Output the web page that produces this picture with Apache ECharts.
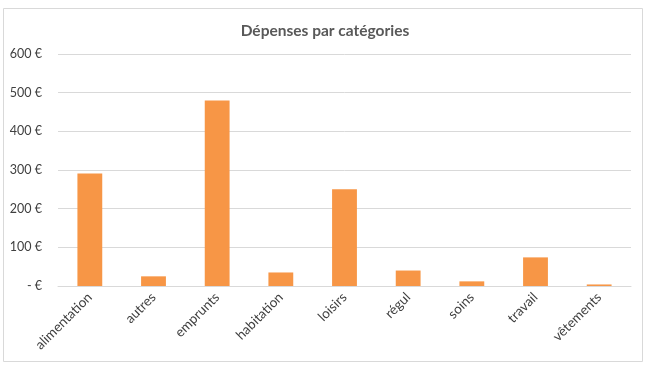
<!DOCTYPE html>
<html><head><meta charset="utf-8">
<script src="https://cdn.jsdelivr.net/npm/echarts@6/dist/echarts.min.js"></script>
<style>html,body{margin:0;padding:0;background:#fff}#c{width:650px;height:369px}</style>
</head><body><div id="c"></div>
<script>
var categories = ['alimentation','autres','emprunts','habitation','loisirs','régul','soins','travail','vêtements'];
var values = [291, 25, 480, 35, 250, 40, 12, 74, 4];
var yTicks = [0, 100, 200, 300, 400, 500, 600];
var title = 'Dépenses par catégories';

var chart = echarts.init(document.getElementById('c'), null, {renderer:'canvas'});
chart.setOption({
  animation: false,
  backgroundColor: '#fff',
  textStyle: {fontFamily: 'Lato, "Open Sans", sans-serif'},
  graphic: [{type:'rect', shape:{x:3.5, y:8.5, width:639, height:353}, style:{fill:'none', stroke:'#d9d9d9', lineWidth:1}, silent:true}],
  title: {text: title, left: 'center', top: 18, textStyle:{fontSize:15.5, fontWeight:'bold', color:'#595959', fontFamily:'Lato, "Open Sans", sans-serif'}},
  grid: {left: 58, right: 19, top: 54, bottom: 83, containLabel: false},
  xAxis: {
    type: 'category', data: categories,
    axisLine: {lineStyle:{color:'#d9d9d9'}},
    axisTick: {show:false},
    axisLabel: {rotate: 45, color:'#404040', fontSize:13.5, margin:9, interval:0}
  },
  yAxis: {
    type: 'value', min: yTicks[0], max: yTicks[yTicks.length-1], interval: 100,
    axisLine: {show:false}, axisTick:{show:false},
    splitLine: {lineStyle:{color:'#d9d9d9'}},
    axisLabel: {color:'#404040', fontSize:12.5, margin:16,
      formatter: function(v){ return v === 0 ? '- €' : v + ' €'; }}
  },
  series: [{type:'bar', data: values, barWidth: '39%', itemStyle:{color:'#f79646'}}]
});
</script></body></html>
